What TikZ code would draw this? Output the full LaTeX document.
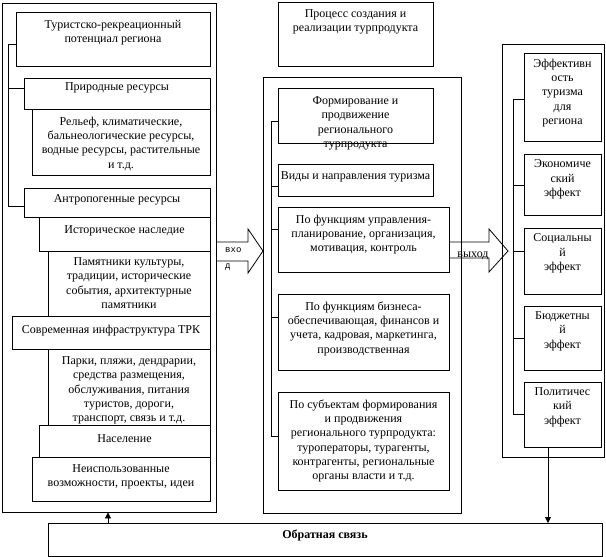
\documentclass[tikz,border=0pt]{standalone}
\usepackage{fontspec}
\setmainfont{Liberation Serif}
\newfontfamily\monof{Liberation Mono}
\usetikzlibrary{arrows.meta,calc}
\newcommand\mkbox[7][7.5]{%
  \node[box, minimum width={(#5-#3)*1pt}, minimum height={(#6-#4)*1pt}] (#2) at ({(#3+#5)/2},{(#4+#6)/2}) {};
  \node[txt, anchor=north] (#2t) at ([yshift=-#1pt]#2.north) {#7};
}
\begin{document}
\begin{tikzpicture}[x=1pt,y=-1pt,
  box/.style={draw, line width=0.8pt, inner sep=0pt},
  txt/.style={align=center, inner sep=0pt, font=\fontsize{12}{14.3}\selectfont},
  conn/.style={line width=0.8pt},
  arr/.style={line width=0.8pt, -{Triangle[length=6pt,width=6pt]}}
]
\useasboundingbox (0,0) rectangle (606,557);

% ---------- left column ----------
\node[box, minimum width=214pt, minimum height=509pt] (Lout) at (109,257.5) {};
\mkbox[8]{b1}{16}{12}{210}{66}{Туристско-рекреационный\\потенциал региона}
\mkbox[5]{b2}{24}{78}{210}{109}{Природные ресурсы}
\mkbox[8]{b3}{32}{109}{210}{175}{Рельеф, климатические,\\бальнеологические ресурсы,\\водные ресурсы, растительные\\и т.д.}
\mkbox[7]{b4}{24}{188}{210}{217}{Антропогенные ресурсы}
\mkbox[9]{b5}{39}{217}{210}{251}{Историческое наследие}
\mkbox[7]{b6}{48}{251}{210}{316}{Памятники культуры,\\традиции, исторические\\события, архитектурные\\памятники}
\mkbox[9]{b7}{12}{316}{210}{349}{Современная инфраструктура ТРК}
\mkbox[8]{b8}{48}{349}{210}{425}{Парки, пляжи, дендрарии,\\средства размещения,\\обслуживания, питания\\туристов, дороги,\\транспорт, связь и т.д.}
\mkbox[10]{b9}{39}{425}{210}{457}{Население}
\mkbox[8]{b10}{32}{457}{210}{501}{Неиспользованные\\возможности, проекты, идеи}

\coordinate (lv1) at (8,44);
\coordinate (lv2) at (8,88);
\coordinate (lv3) at (8,206);
\draw[conn] (b1.west |- lv1) -- (lv1) -- (lv3) -- (b4.west |- lv3);
\draw[conn] (lv2) -- (b2.west |- lv2);

% ---------- middle column ----------
\mkbox[8]{p0}{278}{2}{433}{66}{Процесс создания и\\реализации турпродукта}
\node[box, minimum width=198pt, minimum height=436pt] (Mout) at (362,295) {};
\mkbox[9]{m1}{278}{88}{433}{143}{Формирование и\\продвижение\\регионального\\турпродукта}
\mkbox[8]{m2}{278}{164}{433}{196}{Виды и направления туризма}
\mkbox[8]{m3}{278}{207}{449}{272}{По функциям управления-\\планирование, организация,\\мотивация, контроль}
\mkbox[8]{m4}{278}{294}{449}{370}{По функциям бизнеса-\\обеспечивающая, финансов и\\учета, кадровая, маркетинга,\\производственная}
\mkbox[8]{m5}{278}{392}{449}{490}{По субъектам формирования\\и продвижения\\регионального турпродукта:\\туроператоры, турагенты,\\контрагенты, региональные\\органы власти и т.д.}

\coordinate (mv1) at (271,121);
\coordinate (mv2) at (271,186);
\coordinate (mv3) at (271,229);
\coordinate (mv4) at (271,317);
\coordinate (mv5) at (271,436);
\draw[conn] (m1.west |- mv1) -- (mv1) -- (mv5) -- (m5.west |- mv5);
\draw[conn] (mv2) -- (m2.west |- mv2);
\draw[conn] (mv3) -- (m3.west |- mv3);
\draw[conn] (mv4) -- (m4.west |- mv4);

% ---------- right column ----------
\node[box, minimum width=102.5pt, minimum height=413pt] (Rout) at (553.25,250.5) {};
\mkbox[6]{e1}{524}{53}{601}{141}{Эффективн\\ость\\туризма\\для\\региона}
\mkbox[6]{e2}{524}{154}{601}{215}{Экономиче\\ский\\эффект}
\mkbox[6]{e3}{524}{228}{601}{294}{Социальны\\й\\эффект}
\mkbox[6]{e4}{524}{306}{601}{370}{Бюджетны\\й\\эффект}
\mkbox[6]{e5}{524}{382}{601}{447}{Политичес\\кий\\эффект}

\coordinate (rv1) at (513,99);
\coordinate (rv2) at (513,185);
\coordinate (rv3) at (513,251);
\coordinate (rv4) at (513,338);
\coordinate (rv5) at (513,414);
\draw[conn] (e1.west |- rv1) -- (rv1) -- (rv5) -- (e5.west |- rv5);
\draw[conn] (rv2) -- (e2.west |- rv2);
\draw[conn] (rv3) -- (e3.west |- rv3);
\draw[conn] (rv4) -- (e4.west |- rv4);

% ---------- block arrows ----------
\draw[conn] (216,242) -- (248,242) -- (248,229) -- (263,251) -- (248,273) -- (248,261) -- (216,261);
\node[inner sep=0pt, font=\monof\fontsize{9}{16}\selectfont, align=left, anchor=north west] (inlbl) at (225,247) {вхо\\д};
\draw[conn] (449,242) -- (489,242) -- (489,229) -- (508,251) -- (489,272) -- (489,258) -- (449,258);
\node[inner sep=0pt, font=\fontsize{12}{14}\selectfont, anchor=base] (outlbl) at (473,257.5) {выход};

% ---------- feedback ----------
\mkbox[7]{fb}{48}{523}{602}{556}{\textbf{Обратная связь}}
\coordinate (fbR) at (548,523);
\coordinate (fbL) at (108,523);
\draw[arr] (e5.south -| fbR) -- (fbR);
\draw[arr] (fbL) -- (Lout.south -| fbL);
\end{tikzpicture}
\end{document}
